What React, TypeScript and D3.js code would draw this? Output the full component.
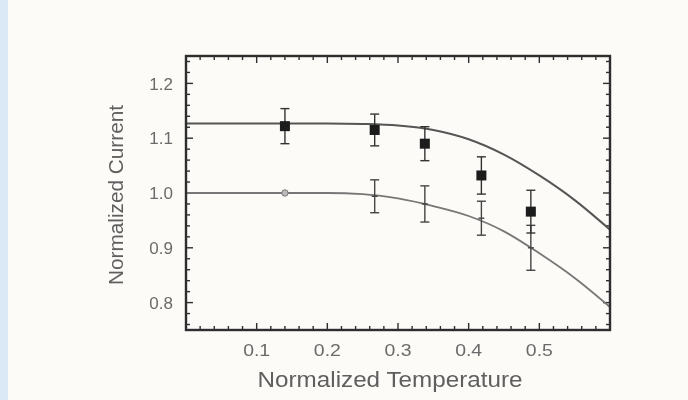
import React from "react";
import * as d3 from "d3";

// Data
const upperX = [0.14, 0.267, 0.338, 0.418, 0.488];
const upperY = [1.122, 1.115, 1.09, 1.032, 0.966];
const upperErr = [0.032, 0.029, 0.031, 0.034, 0.039];

const lowerX = [0.14, 0.267, 0.338, 0.418, 0.488];
const lowerY = [1.0, 0.994, 0.98, 0.954, 0.9];
const lowerErr = [0.0, 0.03, 0.033, 0.031, 0.041];

const curveX = [0, 0.1, 0.2, 0.25, 0.3, 0.35, 0.4, 0.45, 0.5, 0.55, 0.6];
const upperCurveY = [1.127, 1.127, 1.127, 1.126, 1.123, 1.115, 1.098, 1.07, 1.032, 0.987, 0.933];
const lowerCurveY = [1.0, 1.0, 1.0, 0.998, 0.99, 0.976, 0.958, 0.93, 0.89, 0.845, 0.792];

const xTickLabels = ["0.1", "0.2", "0.3", "0.4", "0.5"];
const xTickValues = [0.1, 0.2, 0.3, 0.4, 0.5];
const yTickLabels = ["0.8", "0.9", "1.0", "1.1", "1.2"];
const yTickValues = [0.8, 0.9, 1.0, 1.1, 1.2];

const xTitle = "Normalized Temperature";
const yTitle = "Normalized Current";

export default function App() {
  const W = 688;
  const H = 400;
  const x = d3.scaleLinear().domain([0, 0.6]).range([186, 610]);
  const y = d3.scaleLinear().domain([0.75, 1.25]).range([330, 56]);
  const [x0, x1] = x.range();
  const [y0, y1] = y.range();

  const line = d3
    .line<[number, number]>()
    .x((d) => x(d[0]))
    .y((d) => y(d[1]))
    .curve(d3.curveMonotoneX);

  const upperPath = line(curveX.map((v, i) => [v, upperCurveY[i]]) as [number, number][]) || "";
  const lowerPath = line(curveX.map((v, i) => [v, lowerCurveY[i]]) as [number, number][]) || "";

  const xMinor = x.ticks(30);
  const yMinor = y.ticks(25);
  const isMajor = (v: number) => Math.abs(v * 10 - Math.round(v * 10)) < 1e-6;

  const frameColor = "#2e2e2e";
  const cap = 4.5;

  return (
    <svg
      width={W}
      height={H}
      style={{ position: "absolute", left: 0, top: 0 }}
      fontFamily="'Liberation Sans', Arial, sans-serif"
    >
      <defs>
        <filter id="soft" x="-5%" y="-5%" width="110%" height="110%">
          <feGaussianBlur stdDeviation="0.55" />
        </filter>
      </defs>
      <rect x={0} y={0} width={W} height={H} fill="#fcfbf8" />
      <rect x={0} y={0} width={8} height={H} fill="#dbe8f6" />
      <g filter="url(#soft)">
        {/* ticks */}
        {xMinor.map((v, i) => {
          const len = isMajor(v) ? 7 : 4;
          return (
            <g key={"xt" + i} stroke={frameColor} strokeWidth={1.4}>
              <line x1={x(v)} x2={x(v)} y1={y0} y2={y0 - len} />
              <line x1={x(v)} x2={x(v)} y1={y1} y2={y1 + len} />
            </g>
          );
        })}
        {yMinor.map((v, i) => {
          const len = isMajor(v) ? 7 : 4;
          return (
            <g key={"yt" + i} stroke={frameColor} strokeWidth={1.4}>
              <line x1={x0} x2={x0 + len} y1={y(v)} y2={y(v)} />
              <line x1={x1} x2={x1 - len} y1={y(v)} y2={y(v)} />
            </g>
          );
        })}
        {/* curves */}
        <path d={upperPath} fill="none" stroke="#555" strokeWidth={2} />
        <path d={lowerPath} fill="none" stroke="#777" strokeWidth={1.8} />

        {/* lower series */}
        {lowerX.map((v, i) => (
          <g key={"lo" + i} stroke="#444" strokeWidth={1.4}>
            {lowerErr[i] > 0 && (
              <>
                <line x1={x(v)} x2={x(v)} y1={y(lowerY[i] + lowerErr[i])} y2={y(lowerY[i] - lowerErr[i])} />
                <line x1={x(v) - cap} x2={x(v) + cap} y1={y(lowerY[i] + lowerErr[i])} y2={y(lowerY[i] + lowerErr[i])} />
                <line x1={x(v) - cap} x2={x(v) + cap} y1={y(lowerY[i] - lowerErr[i])} y2={y(lowerY[i] - lowerErr[i])} />
                <line x1={x(v) - 3} x2={x(v) + 3} y1={y(lowerY[i])} y2={y(lowerY[i])} />
              </>
            )}
            {lowerErr[i] === 0 && (
              <circle cx={x(v)} cy={y(lowerY[i])} r={3.2} fill="#bbb" stroke="#777" strokeWidth={1} />
            )}
          </g>
        ))}

        {/* upper series */}
        {upperX.map((v, i) => (
          <g key={"up" + i} stroke="#333" strokeWidth={1.4}>
            <line x1={x(v)} x2={x(v)} y1={y(upperY[i] + upperErr[i])} y2={y(upperY[i] - upperErr[i])} />
            <line x1={x(v) - cap} x2={x(v) + cap} y1={y(upperY[i] + upperErr[i])} y2={y(upperY[i] + upperErr[i])} />
            <line x1={x(v) - cap} x2={x(v) + cap} y1={y(upperY[i] - upperErr[i])} y2={y(upperY[i] - upperErr[i])} />
            <rect x={x(v) - 5} y={y(upperY[i]) - 5} width={10} height={10} fill="#1e1e1e" stroke="none" />
          </g>
        ))}

        {/* frame */}
        <rect x={x0} y={y1} width={x1 - x0} height={y0 - y1} fill="none" stroke={frameColor} strokeWidth={2.4} />

        {/* tick labels */}
        {yTickValues.map((v, i) => (
          <text key={"yl" + i} x={173} y={y(v)} dy="0.36em" textAnchor="end" fontSize={17} fill="#6a6a6a">
            {yTickLabels[i]}
          </text>
        ))}
        {xTickValues.map((v, i) => (
          <text
            key={"xl" + i}
            x={x(v)}
            y={356}
            textAnchor="middle"
            fontSize={17}
            fill="#6a6a6a"
            textLength={27}
            lengthAdjust="spacingAndGlyphs"
          >
            {xTickLabels[i]}
          </text>
        ))}

        {/* axis titles */}
        <text
          x={390}
          y={387}
          textAnchor="middle"
          fontSize={22}
          fill="#5e5e5e"
          textLength={265}
          lengthAdjust="spacingAndGlyphs"
        >
          {xTitle}
        </text>
        <text
          transform="translate(123,195) rotate(-90)"
          textAnchor="middle"
          fontSize={20}
          fill="#5e5e5e"
          textLength={180}
          lengthAdjust="spacingAndGlyphs"
        >
          {yTitle}
        </text>
      </g>
    </svg>
  );
}
